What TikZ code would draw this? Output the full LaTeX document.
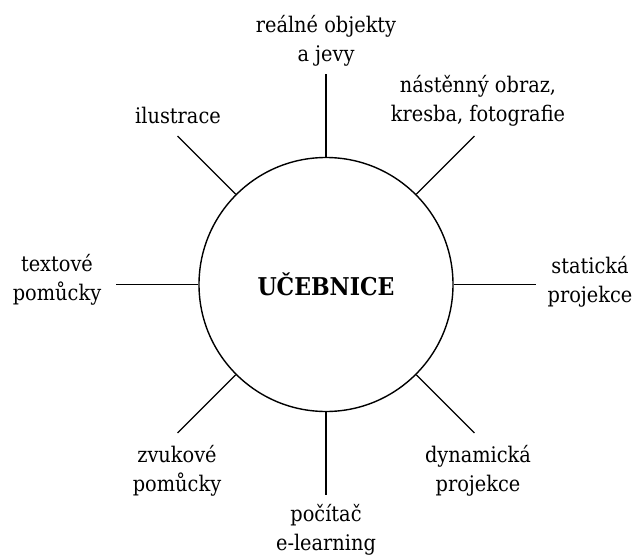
\documentclass[tikz,border=0pt]{standalone}
\usepackage{fontspec}
\setmainfont{DejaVu Serif Condensed}
\begin{document}
\begin{tikzpicture}[x=1pt,y=-1pt,
  lbl/.style={align=center,inner sep=0pt,font=\fontsize{21.5}{29}\selectfont},
  spoke/.style={draw=black,line width=1.4pt},
  hub/.style={circle,draw=black,line width=1.4pt,minimum size=254pt,inner sep=0pt,font=\fontsize{24.5}{29}\selectfont\bfseries}]
\useasboundingbox (0,0) rectangle (636,556);
\node[hub] (c) at (326,284.5) {UČEBNICE};
\foreach \a/\n in {90/n,45/ne,0/e,-45/se,-90/s,-135/sw,180/w,135/nw}{
  \path (c.center) ++(-\a:210) coordinate (end\n);
}
\node[lbl] (t1) at (326,41) {reálné objekty\\a jevy};
\node[lbl] (t2) at (478,101) {nástěnný obraz,\\kresba, fotografie};
\node[lbl] (t3) at (590,282) {statická\\projekce};
\node[lbl] (t4) at (478,471) {dynamická\\projekce};
\node[lbl] (t5) at (326,530) {počítač\\e-learning};
\node[lbl] (t6) at (177,471) {zvukové\\pomůcky};
\node[lbl] (t7) at (57,280) {textové\\pomůcky};
\node[lbl] (t8) at (178,115) {ilustrace};
\foreach \a/\n in {90/n,45/ne,0/e,-45/se,-90/s,-135/sw,180/w,135/nw}{
  \draw[spoke] (c.\a) -- (end\n);
}
\end{tikzpicture}
\end{document}
